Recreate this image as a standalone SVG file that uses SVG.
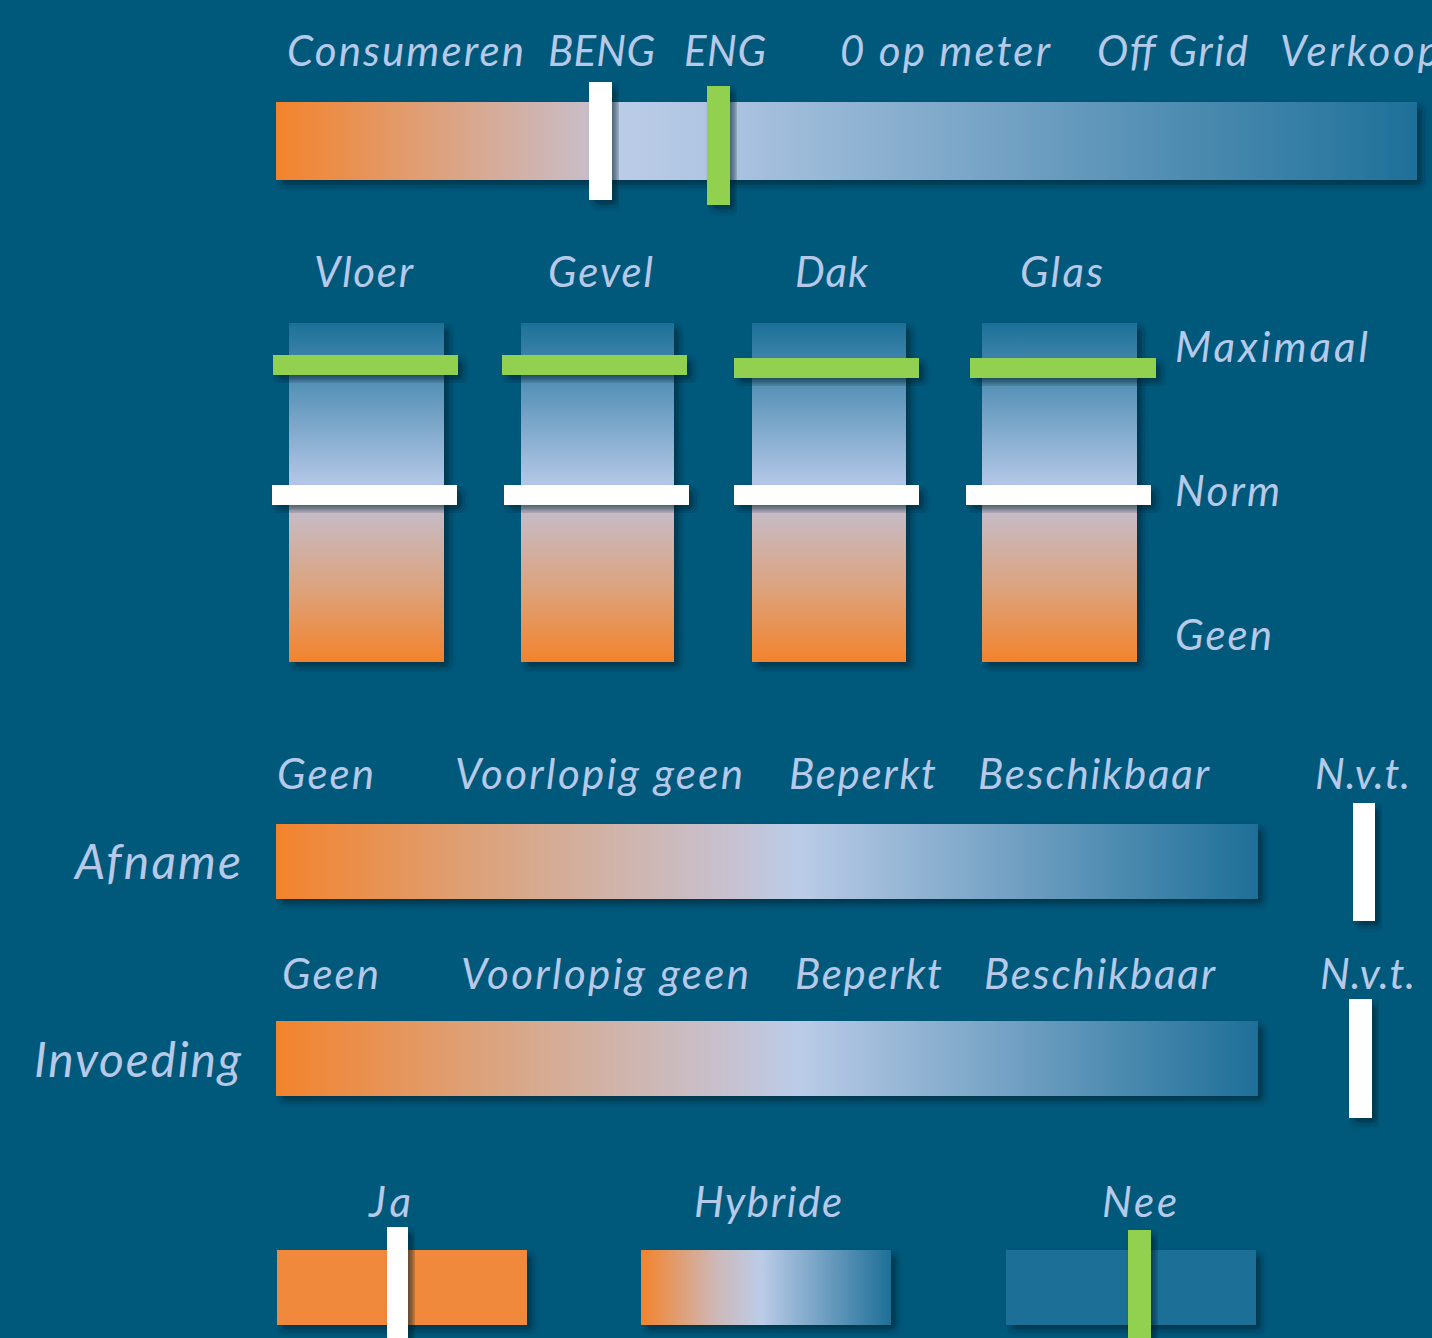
<svg xmlns="http://www.w3.org/2000/svg" width="1432" height="1338" viewBox="0 0 1432 1338">
  <style>
    .lbl { font-family: Lato, "Open Sans", "Liberation Sans", sans-serif; font-style: italic; font-size: 42px; fill: #B6C9E8; }
    .big { font-size: 48px; }
    .end { text-anchor: end; }
    .white { fill: #FFFFFF; }
    .green { fill: #92D050; }
  </style>
  <defs>
    <filter id="shadow" x="-20%" y="-20%" width="150%" height="160%">
      <feDropShadow dx="5" dy="5" stdDeviation="3" flood-color="#00202e" flood-opacity="0.6"/>
    </filter>
    <linearGradient id="gTop" x1="0" y1="0" x2="1" y2="0">
      <stop offset="0" stop-color="#F3832C"/>
      <stop offset="0.27" stop-color="#C9BCC6"/>
      <stop offset="0.3" stop-color="#BBCCE8"/>
      <stop offset="0.38" stop-color="#AFC5E2"/>
      <stop offset="1" stop-color="#1E7099"/>
    </linearGradient>
    <linearGradient id="gVert" x1="0" y1="0" x2="0" y2="1">
      <stop offset="0" stop-color="#1C7098"/>
      <stop offset="0.48" stop-color="#B5C8E8"/>
      <stop offset="0.56" stop-color="#C6BBC6"/>
      <stop offset="0.78" stop-color="#DCA37E"/>
      <stop offset="1" stop-color="#F3832C"/>
    </linearGradient>
    <linearGradient id="gRow" x1="0" y1="0" x2="1" y2="0">
      <stop offset="0" stop-color="#F3832C"/>
      <stop offset="0.25" stop-color="#D8A88A"/>
      <stop offset="0.47" stop-color="#C6C2D2"/>
      <stop offset="0.53" stop-color="#BBCCE8"/>
      <stop offset="1" stop-color="#1E6F98"/>
    </linearGradient>
    <linearGradient id="gHyb" x1="0" y1="0" x2="1" y2="0">
      <stop offset="0" stop-color="#F3832C"/>
      <stop offset="0.3" stop-color="#CDB8B8"/>
      <stop offset="0.48" stop-color="#BBCCE8"/>
      <stop offset="1" stop-color="#1E6F98"/>
    </linearGradient>
  </defs>

  <rect x="0" y="0" width="1432" height="1338" fill="#00587A"/>

  <!-- Energy ambition scale -->
  <g id="ambitie">
    <text class="lbl" x="287" y="66" textLength="237">Consumeren</text>
    <text class="lbl" x="548" y="66" textLength="107">BENG</text>
    <text class="lbl" x="684" y="66" textLength="82">ENG</text>
    <text class="lbl" x="840" y="66" textLength="210">0 op meter</text>
    <text class="lbl" x="1097" y="66" textLength="151">Off Grid</text>
    <text class="lbl" x="1280" y="66" textLength="160">Verkoop</text>
    <rect x="276" y="102" width="1141" height="78" fill="url(#gTop)" filter="url(#shadow)"/>
    <rect class="white" x="589" y="82" width="23" height="118" filter="url(#shadow)"/>
    <rect class="green" x="707" y="86" width="23" height="119" filter="url(#shadow)"/>
  </g>

  <!-- Insulation columns -->
  <g id="isolatie">
    <text class="lbl" x="314" y="287" textLength="99">Vloer</text>
    <text class="lbl" x="548" y="287" textLength="105">Gevel</text>
    <text class="lbl" x="795" y="287" textLength="73">Dak</text>
    <text class="lbl" x="1020" y="287" textLength="83">Glas</text>
    <text class="lbl" x="1175" y="362" textLength="193">Maximaal</text>
    <text class="lbl" x="1175" y="506" textLength="105">Norm</text>
    <text class="lbl" x="1175" y="650" textLength="97">Geen</text>

    <g id="vloer">
      <rect x="289" y="323" width="155" height="339" fill="url(#gVert)" filter="url(#shadow)"/>
      <rect class="green" x="273" y="355" width="185" height="20" filter="url(#shadow)"/>
      <rect class="white" x="272" y="485" width="185" height="20" filter="url(#shadow)"/>
    </g>
    <g id="gevel">
      <rect x="521" y="323" width="153" height="339" fill="url(#gVert)" filter="url(#shadow)"/>
      <rect class="green" x="502" y="355" width="185" height="20" filter="url(#shadow)"/>
      <rect class="white" x="504" y="485" width="185" height="20" filter="url(#shadow)"/>
    </g>
    <g id="dak">
      <rect x="752" y="323" width="154" height="339" fill="url(#gVert)" filter="url(#shadow)"/>
      <rect class="green" x="734" y="358" width="185" height="20" filter="url(#shadow)"/>
      <rect class="white" x="734" y="485" width="185" height="20" filter="url(#shadow)"/>
    </g>
    <g id="glas">
      <rect x="982" y="323" width="155" height="339" fill="url(#gVert)" filter="url(#shadow)"/>
      <rect class="green" x="970" y="358" width="186" height="20" filter="url(#shadow)"/>
      <rect class="white" x="966" y="485" width="185" height="20" filter="url(#shadow)"/>
    </g>
  </g>

  <!-- Grid capacity: consumption -->
  <g id="afname">
    <text class="lbl" x="277" y="789" textLength="97">Geen</text>
    <text class="lbl" x="455" y="789" textLength="288">Voorlopig geen</text>
    <text class="lbl" x="789" y="789" textLength="147">Beperkt</text>
    <text class="lbl" x="978" y="789" textLength="231">Beschikbaar</text>
    <text class="lbl" x="1315" y="789" textLength="95">N.v.t.</text>
    <text class="lbl big end" x="241" y="879" textLength="166">Afname</text>
    <rect x="276" y="824" width="982" height="75" fill="url(#gRow)" filter="url(#shadow)"/>
    <rect class="white" x="1353" y="803" width="22" height="118" filter="url(#shadow)"/>
  </g>

  <!-- Grid capacity: feed-in -->
  <g id="invoeding">
    <text class="lbl" x="282" y="989" textLength="97">Geen</text>
    <text class="lbl" x="461" y="989" textLength="288">Voorlopig geen</text>
    <text class="lbl" x="795" y="989" textLength="147">Beperkt</text>
    <text class="lbl" x="984" y="989" textLength="231">Beschikbaar</text>
    <text class="lbl" x="1320" y="989" textLength="95">N.v.t.</text>
    <text class="lbl big end" x="241" y="1077" textLength="207">Invoeding</text>
    <rect x="276" y="1021" width="982" height="75" fill="url(#gRow)" filter="url(#shadow)"/>
    <rect class="white" x="1349" y="999" width="23" height="119" filter="url(#shadow)"/>
  </g>

  <!-- Gas connection choice -->
  <g id="keuze">
    <text class="lbl" x="369" y="1217" textLength="42">Ja</text>
    <text class="lbl" x="694" y="1217" textLength="148">Hybride</text>
    <text class="lbl" x="1102" y="1217" textLength="75">Nee</text>
    <rect x="277" y="1250" width="250" height="75" fill="#F0893B" filter="url(#shadow)"/>
    <rect x="641" y="1250" width="250" height="75" fill="url(#gHyb)" filter="url(#shadow)"/>
    <rect x="1006" y="1250" width="250" height="75" fill="#1C7098" filter="url(#shadow)"/>
    <rect class="white" x="387" y="1227" width="21" height="120" filter="url(#shadow)"/>
    <rect class="green" x="1128" y="1230" width="23" height="120" filter="url(#shadow)"/>
  </g>
</svg>
